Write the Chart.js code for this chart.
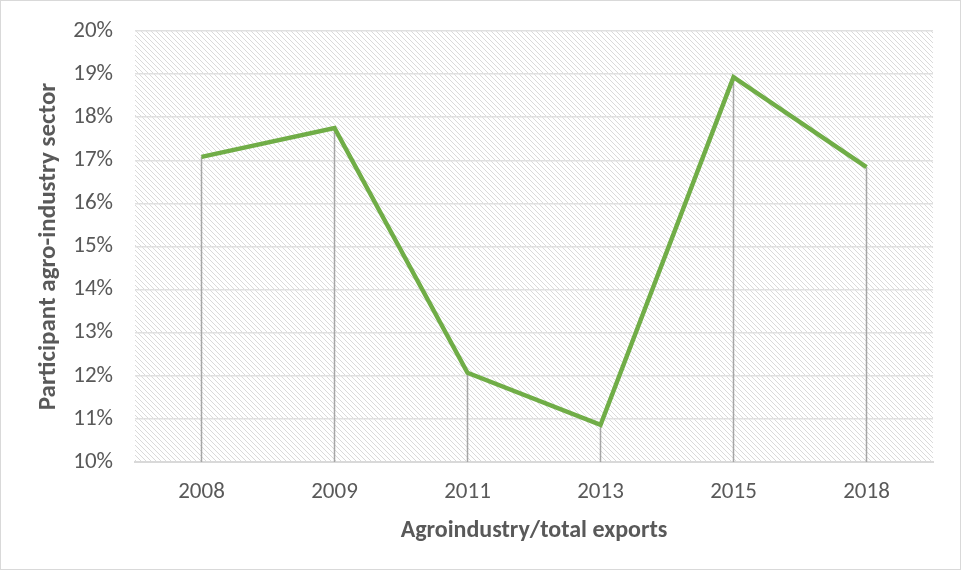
<!DOCTYPE html>
<html>
<head>
<meta charset="utf-8">
<script src="https://cdn.jsdelivr.net/npm/chart.js@4/dist/chart.umd.min.js"></script>
<style>
  html, body { margin: 0; padding: 0; background: #fff; }
  #wrap { width: 961px; height: 570px; position: relative; }
</style>
</head>
<body>
<div id="wrap"><canvas id="chart"></canvas></div>
<script>
'use strict'
const years = ['2008', '2009', '2011', '2013', '2015', '2018']
const share = [17.08, 17.75, 12.07, 10.86, 18.93, 16.84]
const yTicks = [10, 11, 12, 13, 14, 15, 16, 17, 18, 19, 20]

const font = 'Carlito, Calibri, "Liberation Sans Narrow", "Open Sans", sans-serif'

// diagonal hatch used behind the plot
const makeHatch = (ctx) => {
  const c = document.createElement('canvas')
  c.width = 5
  c.height = 5
  const g = c.getContext('2d')
  g.fillStyle = '#ffffff'
  g.fillRect(0, 0, 5, 5)
  g.strokeStyle = '#dadada'
  g.lineWidth = 1
  g.beginPath()
  g.moveTo(-1, -1); g.lineTo(6, 6)
  g.moveTo(-1, 4); g.lineTo(1, 6)
  g.moveTo(4, -1); g.lineTo(6, 1)
  g.stroke()
  return ctx.createPattern(c, 'repeat')
}

const backdrop = {
  id: 'backdrop',
  beforeDraw (chart) {
    const { ctx, chartArea: a } = chart
    ctx.save()
    ctx.fillStyle = makeHatch(ctx)
    ctx.fillRect(a.left, a.top, a.right - a.left, a.bottom - a.top)
    ctx.strokeStyle = '#d9d9d9'
    ctx.lineWidth = 1
    ctx.strokeRect(0.5, 0.5, chart.width - 1, chart.height - 1)
    ctx.restore()
  }
}

const dropLines = {
  id: 'dropLines',
  beforeDatasetsDraw (chart) {
    const { ctx, chartArea: a } = chart
    const meta = chart.getDatasetMeta(0)
    ctx.save()
    ctx.strokeStyle = '#a6a6a6'
    ctx.lineWidth = 1.5
    for (const pt of meta.data) {
      ctx.beginPath()
      ctx.moveTo(pt.x, pt.y)
      ctx.lineTo(pt.x, a.bottom)
      ctx.stroke()
    }
    ctx.restore()
  }
}

new Chart(document.getElementById('chart'), {
  type: 'line',
  data: {
    labels: years,
    datasets: [{
      data: share,
      borderColor: '#70ad47',
      borderWidth: 4.5,
      pointRadius: 0,
      tension: 0
    }]
  },
  options: {
    responsive: true,
    maintainAspectRatio: false,
    animation: false,
    layout: { padding: { left: 30, right: 28, top: 31, bottom: 21 } },
    plugins: { legend: { display: false }, tooltip: { enabled: false } },
    scales: {
      x: {
        offset: true,
        grid: { display: false, drawTicks: false },
        border: { display: true, color: '#d9d9d9', width: 2 },
        ticks: {
          color: '#595959',
          padding: 16,
          autoSkip: false,
          maxRotation: 0,
          font: { family: font, size: 23 }
        },
        title: {
          display: true,
          text: 'Agroindustry/total exports',
          color: '#595959',
          padding: { top: 4, bottom: 4 },
          font: { family: font, size: 24, weight: 'bold' }
        },
        afterFit: (s) => { s.height = 570 - 462 - 21 }
      },
      y: {
        min: 10,
        max: 20,
        afterBuildTicks: (s) => { s.ticks = yTicks.map(v => ({ value: v })) },
        grid: { color: '#e0e0e0', lineWidth: 1.5, drawTicks: false },
        border: { display: false },
        ticks: {
          color: '#595959',
          padding: 22,
          autoSkip: false,
          font: { family: font, size: 23, lineHeight: 1 },
          callback: (v) => v + '%'
        },
        title: {
          display: true,
          text: 'Participant agro-industry sector',
          color: '#595959',
          padding: { top: 4, bottom: 4 },
          font: { family: font, size: 25, weight: 'bold' }
        },
        afterFit: (s) => {
          s.width = 135 - 30
          s.paddingTop = 0
          s.paddingBottom = 0
        }
      }
    }
  },
  plugins: [backdrop, dropLines]
})
</script>
</body>
</html>
